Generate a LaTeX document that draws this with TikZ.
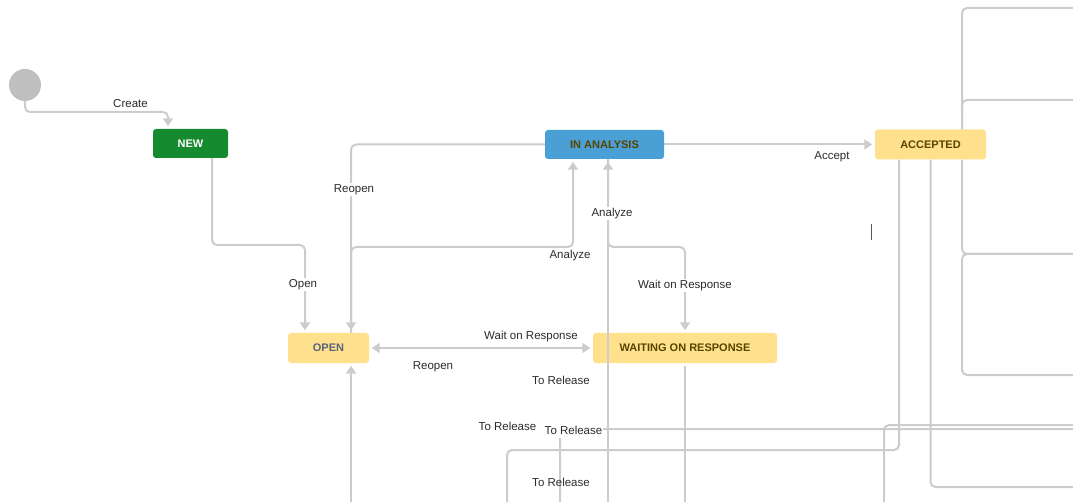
\documentclass[tikz,border=0pt]{standalone}
\usepackage{fontspec}
\setmainfont{Liberation Sans}
\usetikzlibrary{arrows.meta}
\definecolor{edgegray}{HTML}{CCCCCC}
\definecolor{startgray}{HTML}{BFBFBF}
\definecolor{newgreen}{HTML}{168A2E}
\definecolor{anablue}{HTML}{4A9FD5}
\definecolor{stateyellow}{HTML}{FFE18D}
\definecolor{browntext}{HTML}{594300}
\definecolor{slatetext}{HTML}{56657A}
\definecolor{labeltext}{HTML}{2B2B2B}
\pgfdeclarelayer{bg}
\pgfsetlayers{bg,main}
\tikzset{
  state/.style={rectangle, rounded corners=3pt, inner sep=0pt,
    font=\bfseries\fontsize{11}{13}\selectfont, text=browntext},
  edge/.style={draw=edgegray, line width=2pt, rounded corners=5pt},
  arrowed/.style={edge, ->, shorten >=2.5pt},
  lbl/.style={fill=white, inner sep=1pt, text=labeltext, yshift=-2pt,
    font=\fontsize{11.5}{13}\selectfont, text height=8.5pt, text depth=2.5pt},
  >={Triangle[width=10pt,length=8pt]}
}
\begin{document}
\begin{tikzpicture}[x=1pt,y=-1pt]
\useasboundingbox (0,0) rectangle (1073,502);

% states
\node[circle, fill=startgray, minimum size=32pt, inner sep=0pt] (start) at (25,85) {};
\node[state, fill=newgreen, text=white, minimum width=75pt, minimum height=29pt] (new) at (190.5,143.5) {NEW};
\node[state, fill=anablue, minimum width=119pt, minimum height=29pt] (ina) at (604.5,144.5) {IN ANALYSIS};
\node[state, fill=stateyellow, minimum width=111pt, minimum height=30pt] (acc) at (930.5,144.5) {ACCEPTED};
\node[state, fill=stateyellow, text=slatetext, minimum width=81pt, minimum height=30pt] (open) at (328.5,348) {OPEN};
\node[state, fill=stateyellow, minimum width=184pt, minimum height=30pt] (wor) at (685,348) {WAITING ON RESPONSE};

% waypoints
\coordinate (k1) at (168,112);
\coordinate (x212) at (212,0);
\coordinate (k2) at (305,245);
\coordinate (x351) at (351,0);
\coordinate (k3) at (573,247);
\coordinate (x608) at (608,0);
\coordinate (k4) at (685,247);
\coordinate (x899) at (899,0);
\coordinate (x962) at (962,0);
\coordinate (k5) at (507,450);
\coordinate (e1) at (1073,8);
\coordinate (e2) at (1073,100);
\coordinate (e3) at (1073,254);
\coordinate (e4) at (1073,375);
\coordinate (e5) at (1073,487);
\coordinate (e6) at (1073,425);
\coordinate (e7) at (1073,429);
\coordinate (b351) at (351,502);
\coordinate (b507) at (507,502);
\coordinate (b560) at (560,502);
\coordinate (b608) at (608,502);
\coordinate (b685) at (685,502);
\coordinate (b884) at (884,502);

\begin{pgfonlayer}{bg}
  % Create
  \draw[arrowed] (start.south) |- (k1) -- (new.north -| k1);
  % Open
  \draw[arrowed] (new.south -| x212) |- (k2) -- (open.north -| k2);
  % Reopen from analysis
  \draw[arrowed] (ina.west) -| (open.north -| x351);
  % Analyze from open
  \draw[arrowed] (open.north -| x351) |- (k3) -- (ina.south -| k3);
  % Accept
  \draw[arrowed] (ina.east) -- (acc.west);
  % Wait on Response from analysis
  \draw[arrowed] (ina.south -| x608) |- (k4) -- (wor.north);
  % Open <-> Waiting on Response
  \draw[edge, <->, shorten >=2.5pt, shorten <=2.5pt] (open.east) -- (wor.west);
  % into Open from below
  \draw[arrowed] (b351) -- (open.south -| x351);
  % out of Waiting on Response
  \draw[edge, shorten <=2.5pt] (wor.south) -- (b685);
  % transitions leaving Accepted
  \draw[edge] (acc.south -| x899) |- (k5) -- (b507);
  \draw[edge] (acc.south) |- (e5);
  \draw[edge] (e1) -| (acc.north -| x962);
  \draw[edge] (e2) -| (acc.north -| x962);
  \draw[edge] (acc.south -| x962) |- (e3);
  \draw[edge] (e3) -| (962,375) -- (e4);
  % To Release lines at the bottom
  \draw[edge] (e6) -| (b884);
  \draw[edge] (b560) |- (e7);
\end{pgfonlayer}

% Analyze from below, crossing Waiting on Response
\draw[arrowed] (b608) -- (ina.south -| x608);

% labels
\node[lbl] (lcreate) at (130.5,103) {Create};
\node[lbl] (lopen) at (303,283) {Open};
\node[lbl] (lreopen1) at (354,188) {Reopen};
\node[lbl] (lanalyze1) at (612,212) {Analyze};
\node[lbl] (lanalyze2) at (570,254) {Analyze};
\node[lbl] (lwait1) at (685,284) {Wait on Response};
\node[lbl] (lwait2) at (531,335) {Wait on Response};
\node[lbl] (lreopen2) at (433,364) {Reopen};
\node[lbl] (laccept) at (832,155) {Accept};
\node[lbl] (lrel1) at (561,379) {To Release};
\node[lbl] (lrel2) at (507.5,425) {To Release};
\node[lbl] (lrel3) at (573.5,429) {To Release};
\node[lbl, fill=none] (lrel4) at (561,481) {To Release};

% text cursor mark
\draw[draw=black!65, line width=1pt] (871,224) -- (871,240);
\end{tikzpicture}
\end{document}
